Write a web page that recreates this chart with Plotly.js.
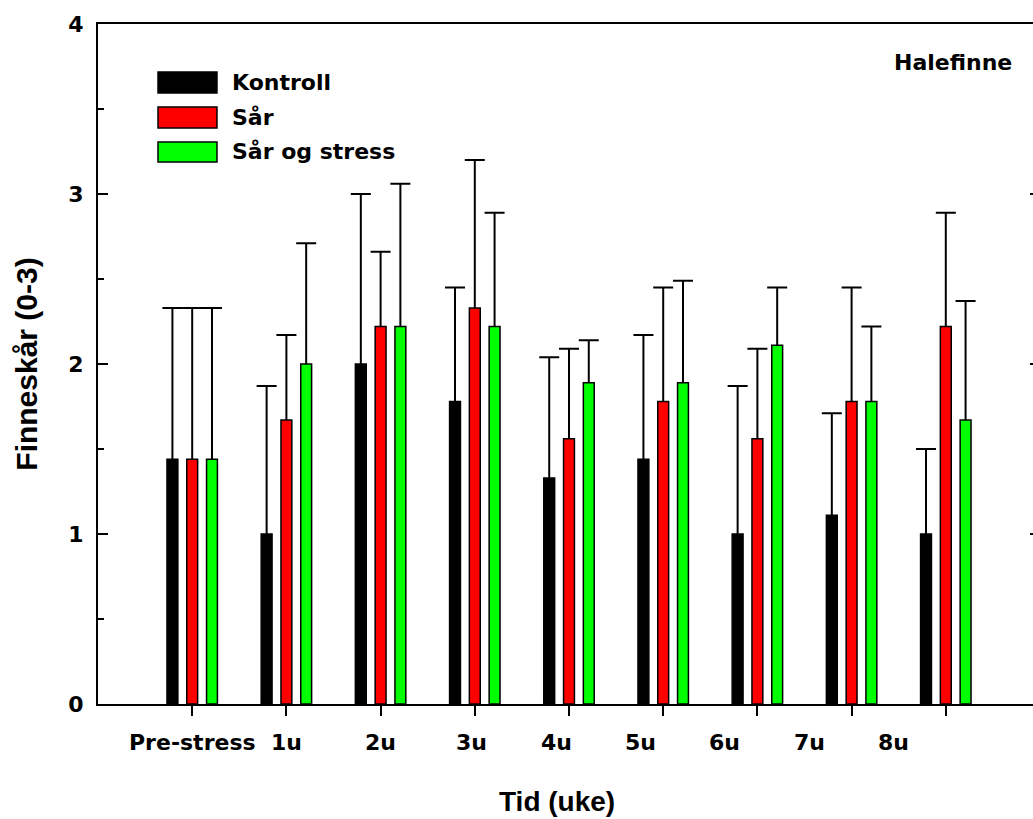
<!DOCTYPE html>
<html>
<head>
<meta charset="utf-8">
<script src="https://cdn.plot.ly/plotly-3.0.1.min.js"></script>
<style>
  html, body { margin: 0; padding: 0; overflow: hidden; background: #fff; }
  #chart { width: 1045px; height: 819px; }
</style>
</head>
<body>
<div id="chart"></div>
<script>
// Fin score of the tail fin per week, mean with upper SD
const categories = ['Pre-stress', '1u', '2u', '3u', '4u', '5u', '6u', '7u', '8u'];
const seriesNames = ['Kontroll', 'Sår', 'Sår og stress'];

const kontroll   = [1.44, 1.00, 2.00, 1.78, 1.33, 1.44, 1.00, 1.11, 1.00];
const kontrollSD = [0.89, 0.87, 1.00, 0.67, 0.71, 0.73, 0.87, 0.60, 0.50];

const sar   = [1.44, 1.67, 2.22, 2.33, 1.56, 1.78, 1.56, 1.78, 2.22];
const sarSD = [0.89, 0.50, 0.44, 0.87, 0.53, 0.67, 0.53, 0.67, 0.67];

const sarStress   = [1.44, 2.00, 2.22, 2.22, 1.89, 1.89, 2.11, 1.78, 1.67];
const sarStressSD = [0.89, 0.71, 0.84, 0.67, 0.25, 0.60, 0.34, 0.44, 0.70];

const seriesColors = ['#000000', '#ff0000', '#00ff00'];

// horizontal nudge (px) of each category label under its tick
const labelNudge = [0, 0, 0, -3, -13, -23, -33, -42, -52];

const means = [kontroll, sar, sarStress];
const sds = [kontrollSD, sarSD, sarStressSD];

const boldFont = { family: 'DejaVu Sans', size: 22, color: '#000', weight: 'bold' };

const traces = [];
// bars with the vertical whisker (no caps here)
means.forEach((m, k) => {
  traces.push({
    type: 'bar',
    name: seriesNames[k],
    x: categories,
    y: m,
    marker: { color: seriesColors[k], line: { color: '#000', width: 1.5 } },
    error_y: {
      type: 'data', symmetric: false,
      array: sds[k], arrayminus: sds[k].map(() => 0),
      width: 0, thickness: 2, color: '#000'
    },
    showlegend: false,
    hoverinfo: 'x+y'
  });
});
// caps on top of the whiskers, drawn on an overlaid axis sharing the same groups
means.forEach((m, k) => {
  traces.push({
    type: 'bar',
    name: seriesNames[k] + ' SD',
    x: categories,
    y: m.map((v, i) => v + sds[k][i]),
    yaxis: 'y2',
    marker: { color: 'rgba(0,0,0,0)', line: { width: 0 } },
    error_y: {
      type: 'data', array: m.map(() => 0),
      width: 10, thickness: 2, color: '#000'
    },
    showlegend: false,
    hoverinfo: 'skip'
  });
});

const annotations = [];
categories.forEach((c, i) => {
  annotations.push({
    text: c, x: c, xref: 'x', y: 0, yref: 'paper',
    xanchor: 'center', yanchor: 'middle', xshift: labelNudge[i], yshift: -38,
    showarrow: false, font: boldFont
  });
});
annotations.push({
  text: 'Tid (uke)', x: 0.487, xref: 'paper', y: 0, yref: 'paper',
  xanchor: 'center', yanchor: 'middle', yshift: -97, showarrow: false,
  font: { family: 'Liberation Sans', size: 28, color: '#000', weight: 'bold' }
});
annotations.push({
  text: 'Halefinne', x: 0.9076, xref: 'paper', y: 0.944, yref: 'paper',
  xanchor: 'center', yanchor: 'middle', showarrow: false, font: boldFont
});

// legend: swatch + label per series
const shapes = [];
const legendRows = [[0.9294, 0.8985], [0.8779, 0.8471], [0.8265, 0.7971]];
seriesNames.forEach((n, k) => {
  shapes.push({
    type: 'rect', xref: 'paper', yref: 'paper',
    x0: 0.0637, x1: 0.1263, y0: legendRows[k][1], y1: legendRows[k][0],
    fillcolor: seriesColors[k], line: { color: '#000', width: 1.5 }
  });
  annotations.push({
    text: n, xref: 'paper', yref: 'paper',
    x: 0.1401, y: (legendRows[k][0] + legendRows[k][1]) / 2,
    xanchor: 'left', yanchor: 'middle', showarrow: false, font: boldFont
  });
});

const layout = {
  width: 1045, height: 819,
  margin: { l: 98, r: 5, t: 24, b: 115, pad: 0 },
  paper_bgcolor: '#fff', plot_bgcolor: '#fff',
  barmode: 'group', bargap: 0.37, bargroupgap: 0.45,
  showlegend: false,
  xaxis: {
    type: 'category', range: [-1, 9],
    showticklabels: false,
    ticks: 'outside', ticklen: 10, tickwidth: 2, tickcolor: '#000',
    showline: true, linewidth: 2, linecolor: '#000', mirror: true,
    showgrid: false, zeroline: false, fixedrange: true
  },
  yaxis: {
    range: [0, 4], dtick: 1, tick0: 0,
    ticks: 'inside', ticklen: 10, tickwidth: 2, tickcolor: '#000',
    minor: { dtick: 0.5, ticks: 'inside', ticklen: 6, tickwidth: 2, tickcolor: '#000' },
    showline: true, linewidth: 2, linecolor: '#000', mirror: 'allticks',
    showgrid: false, zeroline: false, fixedrange: true,
    tickfont: boldFont, ticklabelstandoff: 8,
    title: {
      text: 'Finneskår (0-3)', standoff: 22,
      font: { family: 'Liberation Sans', size: 30, color: '#000', weight: 'bold' }
    }
  },
  yaxis2: {
    range: [0, 4], overlaying: 'y', visible: false, fixedrange: true
  },
  annotations: annotations,
  shapes: shapes
};

Plotly.newPlot('chart', traces, layout, { displayModeBar: false, staticPlot: true });
</script>
</body>
</html>
